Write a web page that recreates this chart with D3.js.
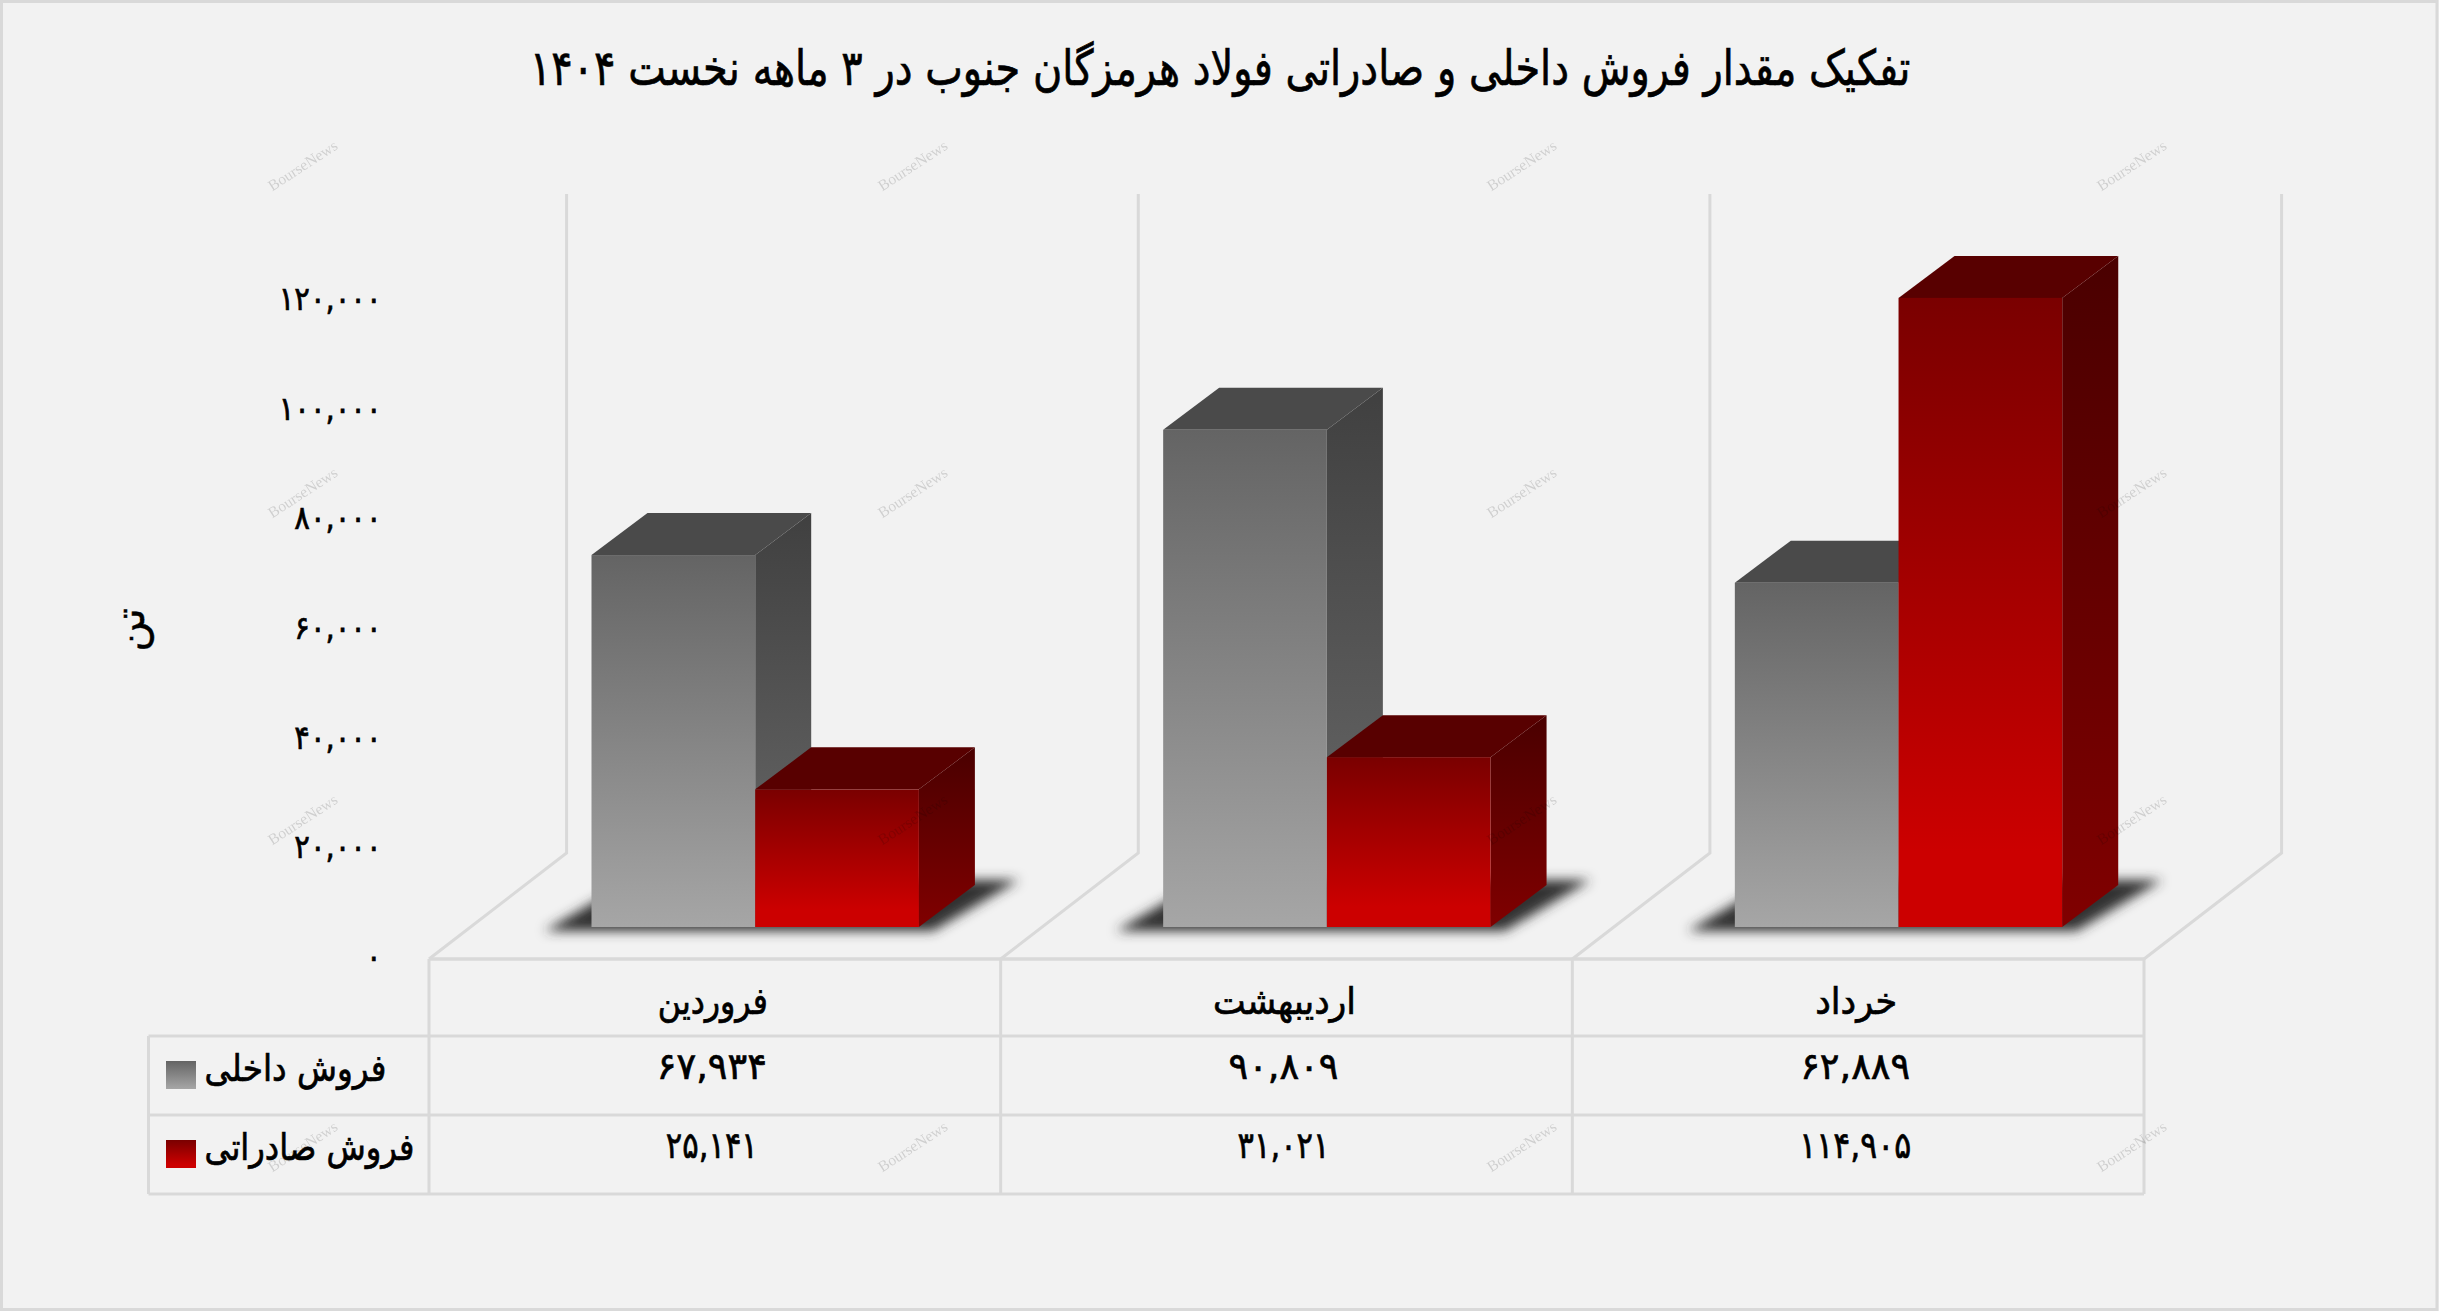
<!DOCTYPE html>
<html lang="fa"><head><meta charset="utf-8">
<script src="https://cdn.jsdelivr.net/npm/d3@7"></script>
<style>html,body{margin:0;padding:0;background:#f2f2f2}svg{display:block}text{font-family:"DejaVu Sans",sans-serif;fill:#000}</style>
</head><body><svg id="c" width="2439" height="1311"></svg>
<script>
const titleText = "تفکیک مقدار فروش داخلی و صادراتی فولاد هرمزگان جنوب در ۳ ماهه نخست ۱۴۰۴";
const unitLabel = "تن";
const watermarkText = "BourseNews";
const categories = ["فروردین", "اردیبهشت", "خرداد"];
const seriesNames = ["فروش داخلی", "فروش صادراتی"];
const domesticSales = [67934, 90809, 62889];
const exportSales = [25141, 31021, 114905];
const yTicks = [0, 20000, 40000, 60000, 80000, 100000, 120000];
const watermarkCols = [303, 913, 1522, 2132];
const watermarkRows = [166, 493, 820, 1147];

const svg = d3.select("#c");
const W = 2439, H = 1311, DX = 56, DY = 42, line = "#d9d9d9";
const faPersian = s => String(s).replace(/\d/g, d => "۰۱۲۳۴۵۶۷۸۹"[+d]);
const fmt = v => faPersian(d3.format(",")(v));

const x = d3.scaleBand(categories, [429, 2144]);
const inner = d3.scaleBand(seriesNames, [162.5, 162.5 + 327.4]);
const yBar = d3.scaleLinear([0, 120000], [927, 270]);
const yAxis = d3.scaleLinear([0, 120000], [957, 299]);

const defs = svg.append("defs");
function grad(id, a, b, end) {
  const g = defs.append("linearGradient").attr("id", id).attr("x1", 0).attr("y1", 0).attr("x2", 0).attr("y2", 1);
  g.append("stop").attr("offset", 0).attr("stop-color", a);
  g.append("stop").attr("offset", end).attr("stop-color", b);
}
grad("front0", "#646464", "#a6a6a6", 1);
grad("front1", "#7a0000", "#cc0000", 0.88);
grad("side0", "#404040", "#6b6b6b", 1);
grad("side1", "#4a0000", "#800000", 1);
const topFill = ["#4a4a4a", "#580000"];
defs.append("filter").attr("id", "blur").attr("x", "-20%").attr("y", "-40%").attr("width", "140%").attr("height", "180%")
  .append("feGaussianBlur").attr("stdDeviation", 6);

svg.append("rect").attr("x", 1.5).attr("y", 1.5).attr("width", W - 3.5).attr("height", H - 3)
  .attr("fill", "#f2f2f2").attr("stroke", line).attr("stroke-width", 3);

const grid = svg.append("g").attr("fill", "none").attr("stroke", line).attr("stroke-width", 3);
const edges = categories.map(c => x(c)).concat([x.range()[1]]);
edges.forEach(e => {
  grid.append("path").attr("d", d3.line()([[e + 137.6, 194], [e + 137.6, 853], [e, 959]]));
});
grid.append("line").attr("x1", x.range()[0]).attr("x2", x.range()[1]).attr("y1", 959).attr("y2", 959).attr("stroke-width", 3.4);

const rowsY = [959, 1036, 1115, 1194];
const tbl = svg.append("g").attr("stroke", line).attr("stroke-width", 3);
rowsY.slice(1).forEach(r => tbl.append("line").attr("x1", 148.5).attr("x2", x.range()[1]).attr("y1", r).attr("y2", r));
edges.forEach(e => tbl.append("line").attr("x1", e).attr("x2", e).attr("y1", 959).attr("y2", 1194));
tbl.append("line").attr("x1", 148.5).attr("x2", 148.5).attr("y1", 1036).attr("y2", 1194);

const barW = inner.bandwidth();
categories.forEach(c => {
  const L = x(c) + inner.range()[0], R = L + 2 * barW;
  svg.append("path").attr("fill", "#333333").attr("filter", "url(#blur)")
    .attr("d", d3.line()([[L - 47, 931], [R + 14, 931], [R + 100, 880], [L + 40, 880]]) + "Z");
});

const values = [domesticSales, exportSales];
categories.forEach((c, ci) => {
  seriesNames.forEach((s, si) => {
    const v = values[si][ci], x0 = x(c) + inner(s), x1 = x0 + barW, yT = yBar(v), yB = yBar(0);
    const g = svg.append("g").attr("class", "bar");
    g.append("path").attr("fill", `url(#side${si})`)
      .attr("d", d3.line()([[x1, yT], [x1 + DX, yT - DY], [x1 + DX, yB - DY], [x1, yB]]) + "Z");
    g.append("path").attr("fill", topFill[si])
      .attr("d", d3.line()([[x0, yT], [x0 + DX, yT - DY], [x1 + DX, yT - DY], [x1, yT]]) + "Z");
    g.append("rect").attr("x", x0).attr("y", yT).attr("width", barW).attr("height", yB - yT).attr("fill", `url(#front${si})`);
  });
});

function place(text, cx, baseline, size, width, anchor) {
  const t = svg.append("text").attr("font-size", size).attr("text-anchor", "middle").attr("direction", "rtl")
    .style("stroke", "#000").style("stroke-width", 0.7).text(text);
  const len = t.node().getComputedTextLength();
  const sx = width / len;
  const px = anchor === "start" ? cx + width / 2 : cx;
  t.attr("transform", `translate(${px},${baseline}) scale(${sx},1)`);
  return t;
}

place(titleText, 1220, 85, 49, 1381);

const ax = d3.axisLeft(yAxis).tickValues(yTicks).tickFormat(fmt).tickSize(0).tickPadding(0);
const axG = svg.append("g").attr("transform", "translate(381.5,0)").call(ax);
axG.select(".domain").remove();
axG.selectAll("text").attr("font-size", 33).attr("font-family", null).style("fill", "#000")
  .style("stroke", "#000").style("stroke-width", 0.7).attr("transform", "scale(0.88,1)");

svg.append("text").attr("font-size", 42).attr("text-anchor", "middle").attr("dy", "0.32em")
  .style("stroke", "#000").style("stroke-width", 0.4)
  .attr("transform", "translate(131,630) rotate(-90)").text(unitLabel);

categories.forEach((c, i) => {
  place(c, x(c) + x.bandwidth() / 2 - 2, 1014, 37, [110, 143, 82][i]);
});
values.forEach((arr, si) => arr.forEach((v, ci) => {
  const c = categories[ci];
  place(fmt(v), x(c) + x.bandwidth() / 2 - 3, si ? 1158 : 1079, 37, si ? (ci === 2 ? 112 : 92) : 110).attr("direction", "ltr");
}));

seriesNames.forEach((s, si) => {
  const top = [1061, 1140][si];
  svg.append("rect").attr("x", 166).attr("y", top).attr("width", 30).attr("height", 28).attr("fill", `url(#front${si})`);
  place(s, 204.5, top + 20, 37, [182, 210][si], "start");
});

const wm = svg.append("g");
watermarkRows.forEach(r => watermarkCols.forEach(cx => {
  wm.append("text").attr("transform", `translate(${cx},${r}) rotate(-33)`).attr("text-anchor", "middle")
    .attr("dy", "0.3em").attr("font-size", 15.5).style("font-family", '"Liberation Serif",serif').style("fill", "#000").attr("opacity", 0.14).text(watermarkText);
}));
</script></body></html>
